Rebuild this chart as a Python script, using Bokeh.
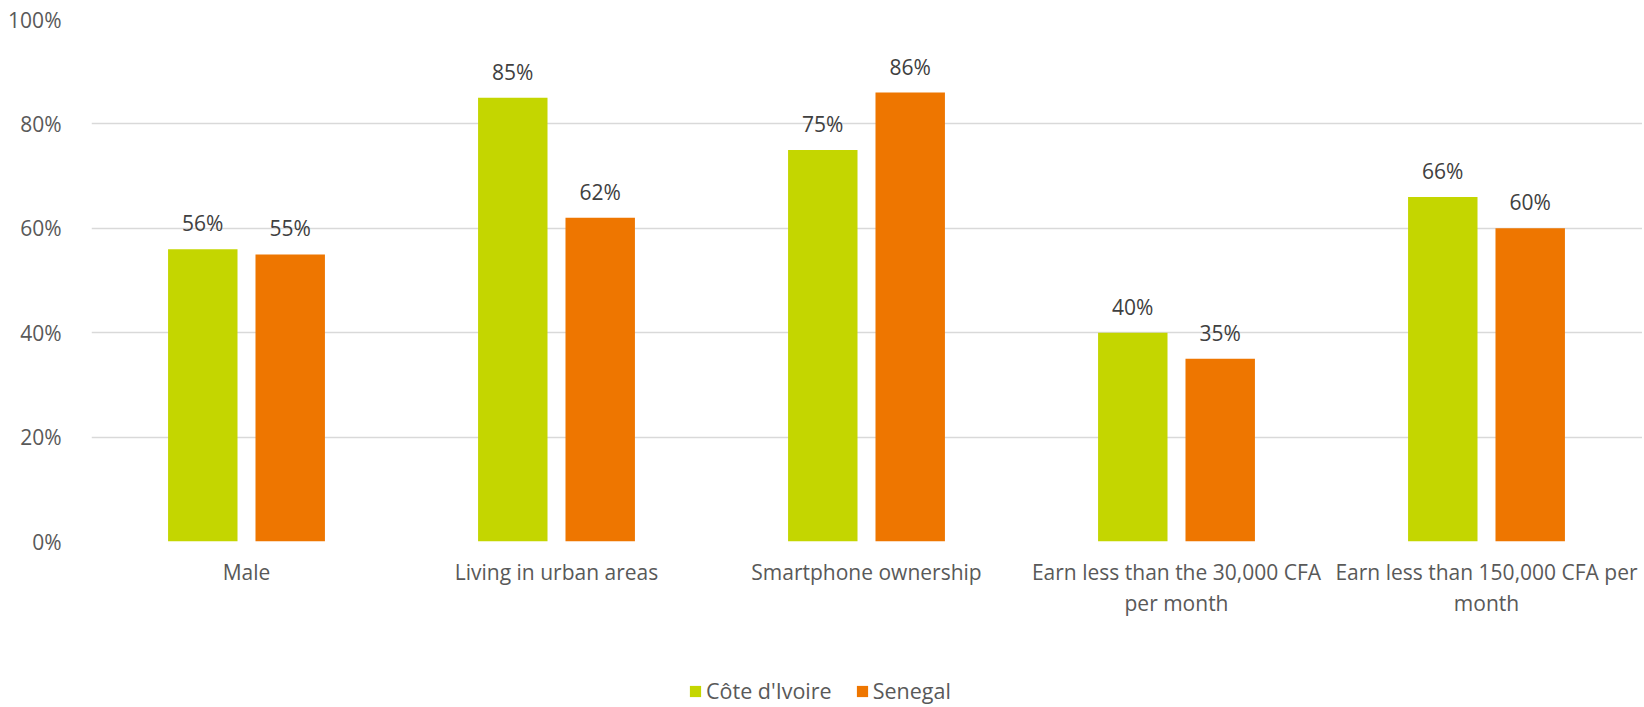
from bokeh.plotting import figure
from bokeh.layouts import column
from bokeh.models import (ColumnDataSource, Range1d, FixedTicker, NumeralTickFormatter,
                          LabelSet, Legend, LegendItem)
from bokeh.core.properties import value
from bokeh.embed import file_html
from bokeh.resources import INLINE
import numpy as np

categories = ["Male", "Living in urban areas", "Smartphone ownership",
              "Earn less than the 30,000 CFA\nper month",
              "Earn less than 150,000 CFA per\nmonth"]
cote_divoire = [0.56, 0.85, 0.75, 0.40, 0.66]
senegal = [0.55, 0.62, 0.86, 0.35, 0.60]
series_names = ["Côte d'Ivoire", "Senegal"]
colors = ["#c4d600", "#ee7600"]
y_ticks = [0, 0.2, 0.4, 0.6, 0.8, 1.0]

FONT = "Open Sans"

W, H, H_LEG = 1642, 658, 47
left_border, top_border, bottom_border = 91, 19, 117
cat_px = 310.0
frame_w = W - left_border
x_end = frame_w / cat_px

centers = np.arange(len(categories)) + 0.5
offset = 0.141
bar_w = 0.224

def pct(v):
    return [f"{round(x*100)}%" for x in v]

src_a = ColumnDataSource(dict(x=centers - offset, y=cote_divoire, lab=pct(cote_divoire)))
src_b = ColumnDataSource(dict(x=centers + offset, y=senegal, lab=pct(senegal)))
sources = [src_a, src_b]

p = figure(width=W, height=H, output_backend="svg", toolbar_location=None,
           x_range=Range1d(0, x_end), y_range=Range1d(0, 1.0),
           min_border_left=left_border, min_border_right=0,
           min_border_top=top_border, min_border_bottom=bottom_border)
p.outline_line_color = None
p.background_fill_color = "white"
p.border_fill_color = "white"

for src, c in zip(sources, colors):
    p.vbar(x="x", top="y", width=bar_w, source=src, fill_color=c, line_color=None)
    p.add_layout(LabelSet(x="x", y="y", text="lab", source=src, text_align="center",
                          text_baseline="alphabetic", y_offset=18,
                          text_font_size=value("21px"), text_font=value(FONT),
                          text_color=value("#404040")))

# x axis
p.xaxis.ticker = FixedTicker(ticks=list(centers))
p.xaxis.major_label_overrides = {float(c): lab for c, lab in zip(centers, categories)}
p.xaxis.axis_line_color = None
p.xaxis.major_tick_line_color = None
p.xaxis.minor_tick_line_color = None
p.xaxis.major_label_text_font = FONT
p.xaxis.major_label_text_font_size = "21px"
p.xaxis.major_label_text_color = "#595959"
p.xaxis.major_label_standoff = 10
p.xaxis.major_label_text_line_height = 1.13
p.xgrid.grid_line_color = None

# y axis
p.yaxis.ticker = FixedTicker(ticks=y_ticks)
p.yaxis.formatter = NumeralTickFormatter(format="0%")
p.yaxis.axis_line_color = None
p.yaxis.major_tick_line_color = None
p.yaxis.minor_tick_line_color = None
p.yaxis.major_label_text_font = FONT
p.yaxis.major_label_text_font_size = "21px"
p.yaxis.major_label_text_color = "#595959"
p.yaxis.major_label_standoff = 24
p.ygrid.ticker = FixedTicker(ticks=y_ticks)
p.ygrid.grid_line_color = "#d9d9d9"
p.ygrid.grid_line_width = 1.5

# legend strip below the chart (its bars lie outside its visible range; only swatches show)
pl = figure(width=W, height=H_LEG, output_backend="svg", toolbar_location=None,
            x_range=Range1d(0, x_end), y_range=Range1d(2, 3),
            x_axis_location=None, y_axis_location=None,
            min_border_left=left_border, min_border_right=0, min_border_top=0, min_border_bottom=0)
pl.outline_line_color = None
pl.grid.visible = False
swatches = [pl.vbar(x="x", top="y", width=bar_w, source=src, fill_color=c, line_color=None)
            for src, c in zip(sources, colors)]
legend = Legend(items=[LegendItem(label=n, renderers=[r]) for n, r in zip(series_names, swatches)],
                location=(597, 0), orientation="horizontal",
                glyph_width=14, glyph_height=14, label_standoff=4, spacing=23,
                padding=0, margin=0, border_line_color=None, background_fill_alpha=0,
                label_text_font=FONT, label_text_font_size="21.5px", label_text_color="#595959")
pl.add_layout(legend)

layout = column(p, pl, spacing=0)
open("out.html", "w").write(file_html(layout, INLINE))
